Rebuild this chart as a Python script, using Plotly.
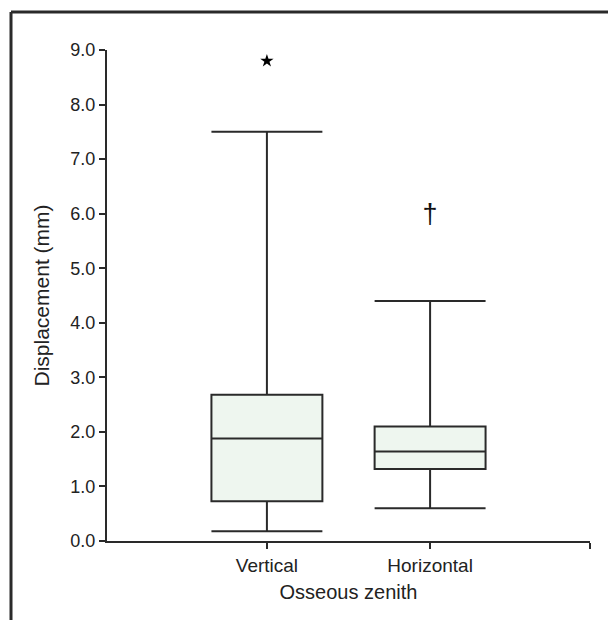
import plotly.graph_objects as go

categories = ["Vertical", "Horizontal"]
lower_whisker = [0.18, 0.60]
q1_vals = [0.73, 1.32]
median_vals = [1.88, 1.64]
q3_vals = [2.68, 2.10]
upper_whisker = [7.50, 4.40]
outlier_symbols = ["star", "†"]
outlier_vals = [8.80, 5.95]
y_ticks = [0, 1, 2, 3, 4, 5, 6, 7, 8, 9]
y_ticktext = ["%.1f" % v for v in y_ticks]

W, H = 608, 620
ML, MR, MT, MB = 107, 18, 50, 79
xmin, xmax = -0.98, 1.98

line_col = "#2a2a2a"
fill_col = "#EEF6EF"
font_fam = "Liberation Sans, Arial, sans-serif"

fig = go.Figure()
for i, c in enumerate(categories):
    fig.add_trace(go.Box(
        x=[i], q1=[q1_vals[i]], median=[median_vals[i]], q3=[q3_vals[i]],
        lowerfence=[lower_whisker[i]], upperfence=[upper_whisker[i]],
        width=0.68, whiskerwidth=1, fillcolor=fill_col,
        line=dict(color=line_col, width=2), boxpoints=False,
        name=c, showlegend=False, hoverinfo="skip",
    ))

# outlier marks
fig.add_trace(go.Scatter(
    x=[0], y=[outlier_vals[0]], mode="markers",
    marker=dict(symbol="star", size=10, color="black", line=dict(width=0)),
    showlegend=False, hoverinfo="skip",
))
fig.add_trace(go.Scatter(
    x=[1], y=[outlier_vals[1]], mode="text", text=[outlier_symbols[1]],
    textfont=dict(size=27, color="#111111", family=font_fam),
    showlegend=False, hoverinfo="skip",
))

pw = W - ML - MR
ph = H - MT - MB
fx = (11 - ML) / pw
fy = ((H - MB) - 12) / ph

fig.update_layout(
    width=W, height=H,
    margin=dict(l=ML, r=MR, t=MT, b=MB, pad=0),
    paper_bgcolor="white", plot_bgcolor="white",
    font=dict(family=font_fam, color="#222222"),
    xaxis=dict(
        range=[xmin, xmax], tickmode="array",
        tickvals=[0, 1, xmax], ticktext=categories + [""],
        showgrid=False, zeroline=False, showline=True,
        linecolor=line_col, linewidth=2,
        ticks="outside", ticklen=6, tickwidth=2, tickcolor=line_col,
        tickfont=dict(size=19),
        title=dict(text="Osseous zenith", font=dict(size=20), standoff=10),
    ),
    yaxis=dict(
        range=[0, 9], tickmode="array", tickvals=y_ticks, ticktext=y_ticktext,
        showgrid=False, zeroline=False, showline=True,
        linecolor=line_col, linewidth=2,
        ticks="outside", ticklen=6, tickwidth=2, tickcolor=line_col,
        tickfont=dict(size=18),
        title=dict(text="Displacement (mm)", font=dict(size=21), standoff=15),
    ),
    shapes=[
        dict(type="line", xref="paper", yref="paper", x0=fx, x1=fx, y0=-0.3, y1=fy,
             line=dict(color=line_col, width=3)),
        dict(type="line", xref="paper", yref="paper", x0=fx, x1=1.2, y0=fy, y1=fy,
             line=dict(color=line_col, width=3)),
    ],
)

fig.write_html("out.html", config={"displayModeBar": False},
               post_script="document.body.style.margin='0';document.body.style.overflow='hidden';")
